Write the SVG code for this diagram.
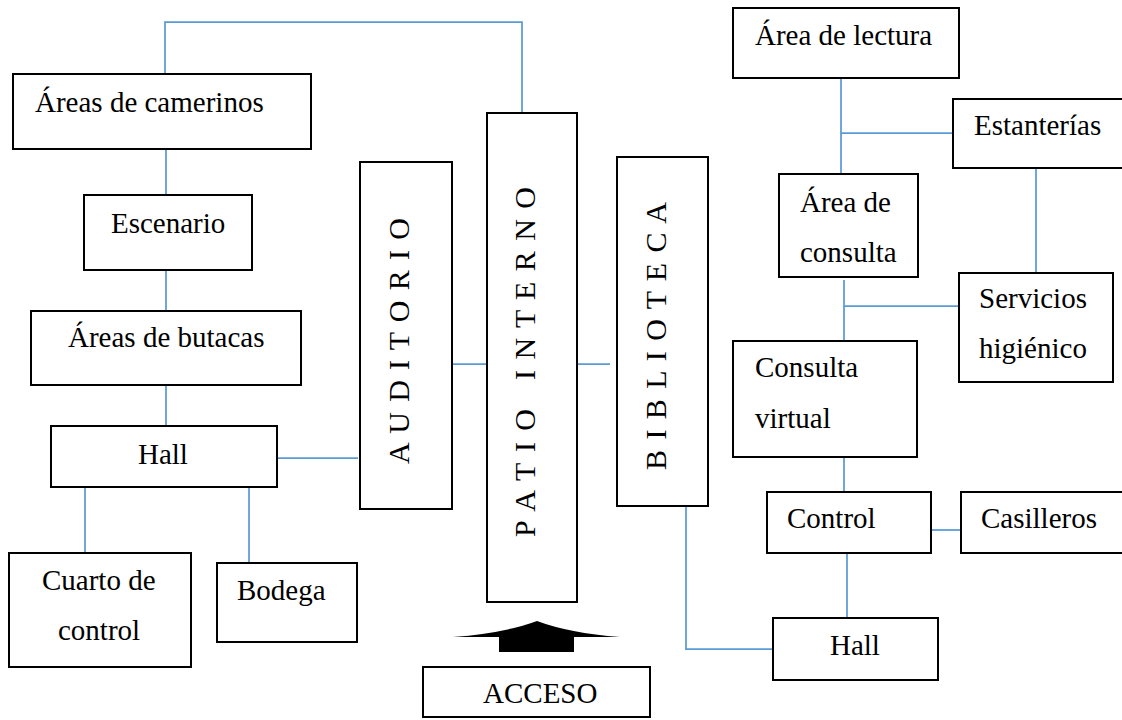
<svg xmlns="http://www.w3.org/2000/svg" width="1122" height="720" viewBox="0 0 1122 720">
<style>
.box{fill:#fff;stroke:#000;stroke-width:2}
.lbl{font-family:"Liberation Serif","Times New Roman",serif;font-size:29px;fill:#000}
.vlbl{font-family:"Liberation Serif","Times New Roman",serif;font-size:30px;fill:#000}
.con{fill:none;stroke:#5B9BD5;stroke-width:1.75}
</style>
<rect x="0" y="0" width="1122" height="720" fill="#fff"/>
<g id="connectors">
<path class="con" d="M165,74 V22 H522 V117"/>
<path class="con" d="M166,149 V195"/>
<path class="con" d="M166,270 V311"/>
<path class="con" d="M166,385 V426"/>
<path class="con" d="M277,458 H358"/>
<path class="con" d="M85,487 V554"/>
<path class="con" d="M249,487 V566"/>
<path class="con" d="M452,364 H487"/>
<path class="con" d="M575,364 H610"/>
<path class="con" d="M686,506 V649 H773"/>
<path class="con" d="M841,78 V174"/>
<path class="con" d="M841,133 H953"/>
<path class="con" d="M1036,168 V273"/>
<path class="con" d="M844,280 V341"/>
<path class="con" d="M844,306 H971"/>
<path class="con" d="M844,457 V492"/>
<path class="con" d="M931,530 H961"/>
<path class="con" d="M847,553 V620"/>
</g>
<g id="camerinos"><rect class="box" x="13" y="74" width="298" height="75"/><text class="lbl" x="35" y="112">Áreas de camerinos</text></g>
<g id="escenario"><rect class="box" x="84" y="195" width="168" height="75"/><text class="lbl" x="111" y="233">Escenario</text></g>
<g id="butacas"><rect class="box" x="31" y="311" width="270" height="74"/><text class="lbl" x="68" y="347">Áreas de butacas</text></g>
<g id="hall-aud"><rect class="box" x="51" y="426" width="226" height="61"/><text class="lbl" x="138" y="464">Hall</text></g>
<g id="cuarto"><rect class="box" x="9" y="553" width="182" height="114"/><text class="lbl" x="42" y="590">Cuarto de</text><text class="lbl" x="58" y="640">control</text></g>
<g id="bodega"><rect class="box" x="217" y="563" width="140" height="79"/><text class="lbl" x="237" y="600">Bodega</text></g>
<g id="auditorio"><rect class="box" x="360" y="162" width="92" height="347"/><text class="vlbl" transform="translate(409,464) rotate(-90)" textLength="246" lengthAdjust="spacing">A U D I T O R I O</text></g>
<g id="patio"><rect class="box" x="487" y="113" width="90" height="489"/><text class="vlbl" transform="translate(535,537) rotate(-90)" textLength="128" lengthAdjust="spacing">P A T I O</text><text class="vlbl" transform="translate(535,380) rotate(-90)" textLength="193" lengthAdjust="spacing">I N T E R N O</text></g>
<g id="biblioteca"><rect class="box" x="617" y="157" width="91" height="349"/><text class="vlbl" transform="translate(666,470) rotate(-90)" textLength="268" lengthAdjust="spacing">B I B L I O T E C A</text></g>
<g id="arrow"><path d="M453,637 Q505,633 537,621 Q569,633 620,637 H574 V652 H499 V637 Z" fill="#000"/></g>
<g id="acceso"><rect class="box" x="423" y="667" width="227" height="50"/><text class="lbl" x="483" y="703">ACCESO</text></g>
<g id="lectura"><rect class="box" x="733" y="8" width="226" height="70"/><text class="lbl" x="755" y="45">Área de lectura</text></g>
<g id="estanterias"><rect class="box" x="953" y="99" width="175" height="69"/><text class="lbl" x="974" y="135">Estanterías</text></g>
<g id="consulta"><rect class="box" x="779" y="174" width="139" height="103"/><text class="lbl" x="800" y="212">Área de</text><text class="lbl" x="800" y="262">consulta</text></g>
<g id="servicios"><rect class="box" x="959" y="273" width="154" height="109"/><text class="lbl" x="979" y="308">Servicios</text><text class="lbl" x="979" y="358">higiénico</text></g>
<g id="virtual"><rect class="box" x="733" y="341" width="184" height="116"/><text class="lbl" x="755" y="377">Consulta</text><text class="lbl" x="755" y="428">virtual</text></g>
<g id="control"><rect class="box" x="767" y="492" width="164" height="61"/><text class="lbl" x="787" y="528">Control</text></g>
<g id="casilleros"><rect class="box" x="961" y="492" width="167" height="61"/><text class="lbl" x="981" y="528">Casilleros</text></g>
<g id="hall-bib"><rect class="box" x="773" y="618" width="165" height="62"/><text class="lbl" x="830" y="655">Hall</text></g>
</svg>
